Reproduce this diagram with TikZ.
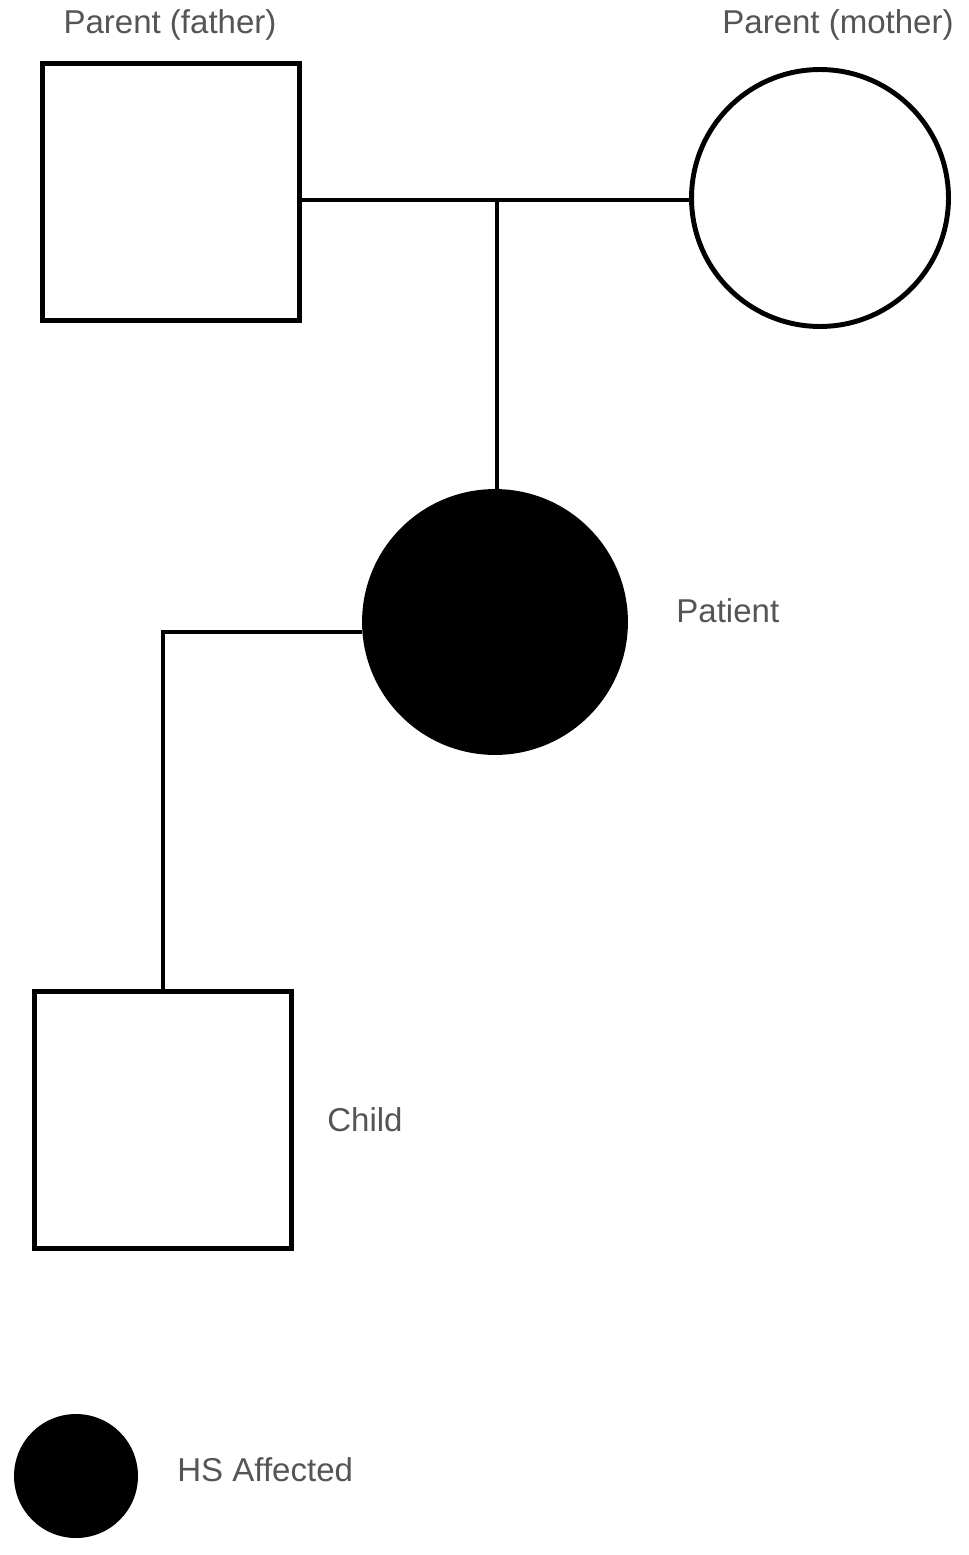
\documentclass[tikz,border=0pt]{standalone}
\usepackage{fontspec}
\setmainfont{Liberation Sans}
\usepackage{tikz}
\usetikzlibrary{positioning}
\definecolor{labelgray}{RGB}{85,85,85}

\begin{document}
\begin{tikzpicture}[x=0.02cm, y=-0.02cm,
    male/.style={draw, line width=2.8pt, rectangle, minimum size=5.14cm, inner sep=0pt},
    female/.style={draw, line width=2.8pt, circle, minimum size=5.14cm, inner sep=0pt},
    affected/.style={fill=black},
    lbl/.style={text=labelgray, font=\fontsize{18.8}{22}\selectfont, inner sep=0pt},
    link/.style={line width=2.3pt}]
  \useasboundingbox (0,0) rectangle (969,1555);
  % parents
  \node[male] (father) at (171,192) {};
  \node[female] (mother) at (820,198) {};
  \node[lbl] (fatherlbl) at (170,25) {Parent (father)};
  \node[lbl] (motherlbl) at (838,25) {Parent (mother)};
  % patient and child
  \node[female, affected, minimum size=5.22cm] (patient) at (495,622) {};
  \node[lbl, anchor=west] (patientlbl) at (676,611) {Patient};
  \node[male] (child) at (163,1120) {};
  \node[lbl, anchor=west] (childlbl) at (327,1120) {Child};
  \coordinate (mid) at (497,200);
  \coordinate (turn) at (163,632);
  \draw[link] (father.east |- mid) -- (mother.west |- mid);
  \draw[link] (mid) -- (mid |- patient.north);
  \draw[link] (patient.west |- turn) -- (turn) -- (child.north);
  % legend
  \node[circle, fill=black, minimum size=2.48cm, inner sep=0pt] (key) at (76,1476) {};
  \node[lbl, anchor=west] (keylbl) at (177,1470) {HS Affected};
\end{tikzpicture}
\end{document}
